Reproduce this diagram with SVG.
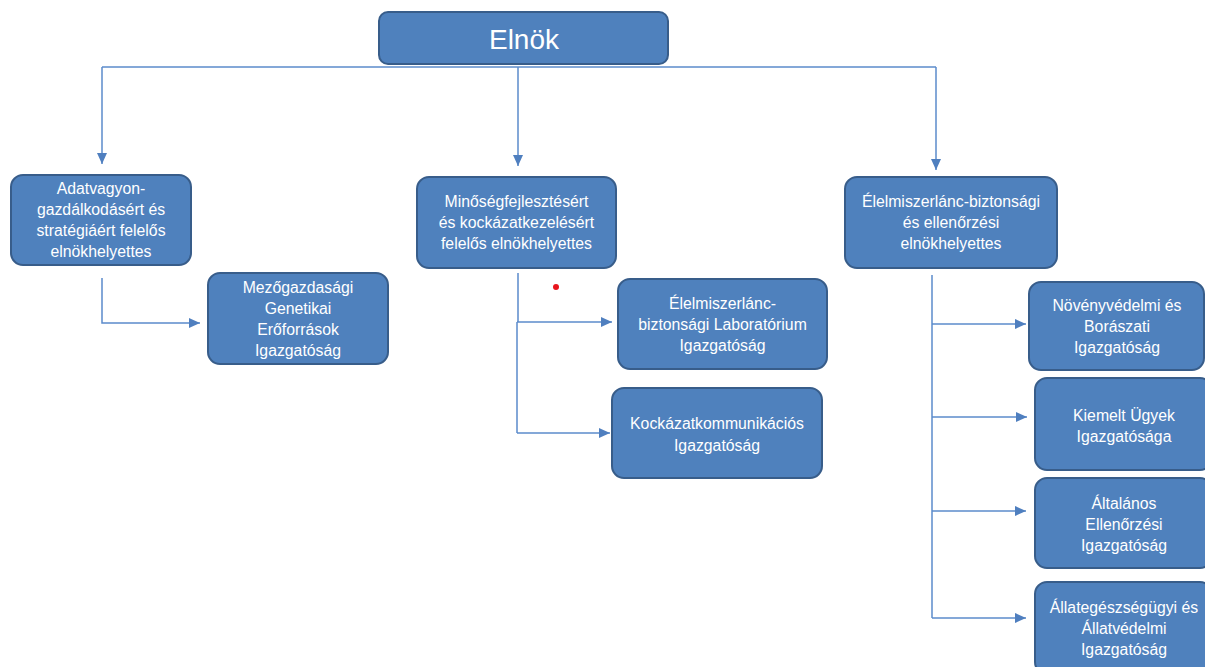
<svg xmlns="http://www.w3.org/2000/svg" width="1205" height="667" viewBox="0 0 1205 667">
<style>
.box{fill:#4F81BD;stroke:#385D8A;stroke-width:2}
.t{fill:#FFFFFF;font-family:"Liberation Sans",Arial,sans-serif;font-size:15.8px;text-anchor:middle;dominant-baseline:central}
.big{font-size:28px}
.c{fill:none;stroke:#5B8BCB;stroke-width:1.5}
</style>
<defs>
<marker id="ah" markerUnits="userSpaceOnUse" markerWidth="12" markerHeight="12" refX="11" refY="6" orient="auto">
<path d="M0,1 L11,6 L0,11 z" fill="#4F7FBF"/>
</marker>
</defs>
<rect width="1205" height="667" fill="#FFFFFF"/>
<g id="connectors">
<path class="c" d="M102,67 H936"/>
<path class="c" d="M102,67 V164" marker-end="url(#ah)"/>
<path class="c" d="M518,67 V166" marker-end="url(#ah)"/>
<path class="c" d="M936,67 V170" marker-end="url(#ah)"/>
<path class="c" d="M102,278 V323 H200" marker-end="url(#ah)"/>
<path class="c" d="M518,273 V322 M517,322 V433"/>
<path class="c" d="M517,322 H612" marker-end="url(#ah)"/>
<path class="c" d="M517,433 H610" marker-end="url(#ah)"/>
<path class="c" d="M932,275 V618"/>
<path class="c" d="M932,324 H1026" marker-end="url(#ah)"/>
<path class="c" d="M932,417 H1027" marker-end="url(#ah)"/>
<path class="c" d="M932,511 H1026" marker-end="url(#ah)"/>
<path class="c" d="M932,618 H1026" marker-end="url(#ah)"/>
</g>
<circle cx="556" cy="287" r="3" fill="#E8141C"/>
<g id="elnok">
<rect class="box" x="379" y="12" width="289" height="52" rx="9"/>
<text class="t big" x="524" y="39">Elnök</text>
</g>
<g id="adatvagyon">
<rect class="box" x="11" y="175" width="180" height="90" rx="12"/>
<text class="t" x="101" y="188.5">Adatvagyon-</text>
<text class="t" x="101" y="209.5">gazdálkodásért és</text>
<text class="t" x="101" y="230.5">stratégiáért felelős</text>
<text class="t" x="101" y="251.5">elnökhelyettes</text>
</g>
<g id="mezogazdasagi">
<rect class="box" x="208" y="273" width="180" height="91" rx="12"/>
<text class="t" x="298" y="287">Mezőgazdasági</text>
<text class="t" x="298" y="308">Genetikai</text>
<text class="t" x="298" y="329">Erőforrások</text>
<text class="t" x="298" y="350">Igazgatóság</text>
</g>
<g id="minoseg">
<rect class="box" x="417" y="177" width="199" height="91" rx="12"/>
<text class="t" x="516.5" y="201.5">Minőségfejlesztésért</text>
<text class="t" x="516.5" y="222.5">és kockázatkezelésért</text>
<text class="t" x="516.5" y="243.5">felelős elnökhelyettes</text>
</g>
<g id="labor">
<rect class="box" x="618" y="279" width="209" height="90" rx="12"/>
<text class="t" x="722.5" y="303">Élelmiszerlánc-</text>
<text class="t" x="722.5" y="324">biztonsági Laboratórium</text>
<text class="t" x="722.5" y="345">Igazgatóság</text>
</g>
<g id="kockazat">
<rect class="box" x="612" y="388" width="210" height="90" rx="12"/>
<text class="t" x="717" y="423">Kockázatkommunikációs</text>
<text class="t" x="717" y="445">Igazgatóság</text>
</g>
<g id="elelmiszerlanc">
<rect class="box" x="845" y="177" width="212" height="91" rx="12"/>
<text class="t" x="951" y="201.5">Élelmiszerlánc-biztonsági</text>
<text class="t" x="951" y="222.5">és ellenőrzési</text>
<text class="t" x="951" y="243.5">elnökhelyettes</text>
</g>
<g id="novenyvedelmi">
<rect class="box" x="1029" y="282" width="175" height="88" rx="12"/>
<text class="t" x="1117" y="305">Növényvédelmi és</text>
<text class="t" x="1117" y="326">Borászati</text>
<text class="t" x="1117" y="347">Igazgatóság</text>
</g>
<g id="kiemelt">
<rect class="box" x="1035" y="378" width="177" height="92" rx="12"/>
<text class="t" x="1124" y="415">Kiemelt Ügyek</text>
<text class="t" x="1124" y="436">Igazgatósága</text>
</g>
<g id="altalanos">
<rect class="box" x="1035" y="478" width="177" height="90" rx="12"/>
<text class="t" x="1124" y="503">Általános</text>
<text class="t" x="1124" y="524">Ellenőrzési</text>
<text class="t" x="1124" y="545">Igazgatóság</text>
</g>
<g id="allategeszsegugyi">
<rect class="box" x="1035" y="582" width="177" height="92" rx="12"/>
<text class="t" x="1124" y="607">Állategészségügyi és</text>
<text class="t" x="1124" y="628">Állatvédelmi</text>
<text class="t" x="1124" y="649">Igazgatóság</text>
</g>
</svg>
